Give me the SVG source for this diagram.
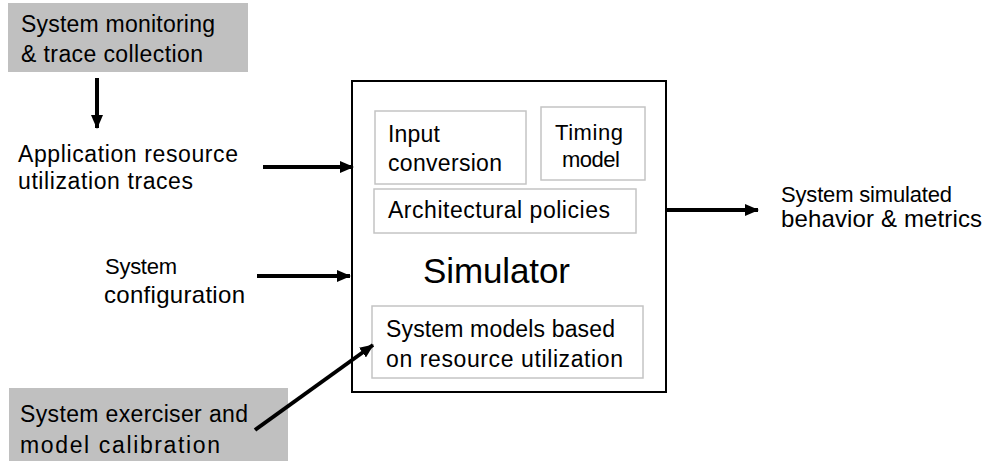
<svg xmlns="http://www.w3.org/2000/svg" width="984" height="461" viewBox="0 0 984 461">
<style>
text{font-family:"Liberation Sans",Arial,sans-serif;font-size:22px;fill:#000}
.w{font-size:23px}
.xw{font-size:24px}
.gray{fill:#C0C0C0;stroke:none}
.inner{fill:#fff;stroke:#C4C4C4;stroke-width:1.5}
.main{fill:#fff;stroke:#000;stroke-width:2}
.conn{stroke:#000;stroke-width:4;fill:none;marker-end:url(#ah)}
</style>
<defs>
<marker id="ah" markerUnits="userSpaceOnUse" markerWidth="14" markerHeight="12" refX="13" refY="6" orient="auto">
<path d="M0,0 L14,6 L0,12 Z" fill="#000"/>
</marker>
</defs>
<rect width="984" height="461" fill="#fff"/>
<g id="monitoring">
<rect class="gray" x="8" y="3" width="240" height="69"/>
<text class="w" x="21" y="32" textLength="194">System monitoring</text>
<text class="w" x="21" y="62" textLength="182">&amp; trace collection</text>
</g>
<g id="traces">
<text class="w" x="18" y="162" textLength="220">Application resource</text>
<text class="w" x="18" y="189" textLength="175">utilization traces</text>
</g>
<g id="config">
<text x="105" y="274" textLength="72">System</text>
<text class="xw" x="104" y="303" textLength="141">configuration</text>
</g>
<g id="exerciser">
<rect class="gray" x="9" y="388" width="279" height="73"/>
<text class="w" x="20" y="422" textLength="228">System exerciser and</text>
<text class="w" x="20" y="453" textLength="200">model calibration</text>
</g>
<g id="output">
<text x="781" y="202" textLength="171">System simulated</text>
<text class="xw" x="781" y="227" textLength="201">behavior &amp; metrics</text>
</g>
<g id="simulator">
<rect class="main" x="352" y="81" width="314" height="311"/>
<text x="423" y="283" textLength="147" style="font-size:35px">Simulator</text>
</g>
<g id="input-conversion">
<rect class="inner" x="375" y="111" width="151" height="73"/>
<text class="w" x="388" y="142" textLength="52">Input</text>
<text class="w" x="388" y="171" textLength="114">conversion</text>
</g>
<g id="timing-model">
<rect class="inner" x="541" y="107" width="104" height="73"/>
<text x="555" y="140" textLength="68">Timing</text>
<text x="562" y="167" textLength="58">model</text>
</g>
<g id="architectural-policies">
<rect class="inner" x="374" y="189" width="262" height="44"/>
<text class="w" x="388" y="218" textLength="222">Architectural policies</text>
</g>
<g id="system-models">
<rect class="inner" x="372" y="306" width="271" height="72"/>
<text class="w" x="386" y="337" textLength="229">System models based</text>
<text class="w" x="386" y="367" textLength="237">on resource utilization</text>
</g>
<g id="connectors">
<line class="conn" x1="97" y1="78" x2="97" y2="128"/>
<line class="conn" x1="263" y1="167" x2="353" y2="167"/>
<line class="conn" x1="257" y1="276" x2="350" y2="276"/>
<line class="conn" x1="255" y1="430" x2="373" y2="345"/>
<line class="conn" x1="666" y1="210" x2="758" y2="210"/>
</g>
</svg>
